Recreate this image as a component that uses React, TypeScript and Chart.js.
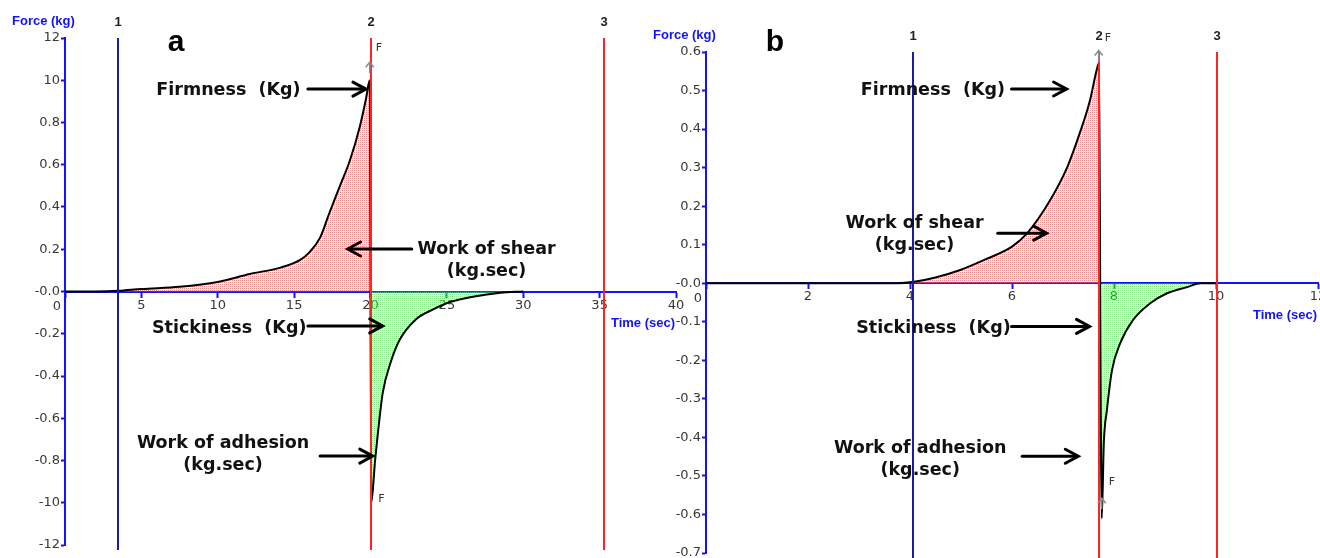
import React, { useEffect, useRef } from 'react';
import { Chart, registerables } from 'chart.js';

Chart.register(...registerables);

// ---------- Panel a data ----------
const aTime = [0, 2.0, 3.5, 5.0, 7.5, 10.0, 12.1, 14.1, 15.4, 16.0, 16.7, 17.3, 18.0, 18.65, 19.3, 19.7, 19.95, 20.05, 20.3, 20.5, 20.8, 21.3, 21.9, 23.0, 24.1, 25.2, 26.7, 28.5, 30.0];
const aForce = [0, 0.0, 0.003, 0.012, 0.022, 0.045, 0.083, 0.113, 0.15, 0.185, 0.255, 0.37, 0.5, 0.62, 0.78, 0.91, 1.0, -1.0, -0.8, -0.66, -0.48, -0.34, -0.23, -0.13, -0.085, -0.05, -0.025, -0.006, 0];
const aXTicks = [0, 5, 10, 15, 20, 25, 30, 35, 40];
const aYTicks = [-1.2, -1.0, -0.8, -0.6, -0.4, -0.2, 0, 0.2, 0.4, 0.6, 0.8, 1.0, 1.2];
const aYTickLabels = ['-12', '-10', '-0.8', '-0.6', '-0.4', '-0.2', '-0.0', '0.2', '0.4', '0.6', '0.8', '10', '12'];
const aMarkers = [3.5, 20.0, 35.3];

// ---------- Panel b data ----------
const bTime = [0, 3.75, 4.05, 4.5, 5.0, 5.5, 6.0, 6.3, 6.75, 7.08, 7.33, 7.53, 7.66, 7.7, 7.76, 7.8, 7.86, 7.96, 8.12, 8.37, 8.71, 9.04, 9.43, 9.7, 10.0];
const bForce = [0, 0, 0.003, 0.015, 0.035, 0.063, 0.095, 0.13, 0.216, 0.3, 0.39, 0.475, 0.553, 0.57, -0.61, -0.415, -0.33, -0.226, -0.156, -0.096, -0.052, -0.026, -0.01, 0, 0];
const bXTicks = [0, 2, 4, 6, 8, 10, 12];
const bYTicks = [-0.7, -0.6, -0.5, -0.4, -0.3, -0.2, -0.1, 0, 0.1, 0.2, 0.3, 0.4, 0.5, 0.6];
const bYTickLabels = ['-0.7', '-0.6', '-0.5', '-0.4', '-0.3', '-0.2', '-0.1', '-0.0', '0.1', '0.2', '0.3', '0.4', '0.5', '0.6'];
const bMarkers = [4.05, 7.7, 10.02];

// ---------- shared text ----------
const markerLabels = ['1', '2', '3'];
const yTitle = 'Force (kg)';
const xTitle = 'Time (sec)';
const firmnessText = 'Firmness  (Kg)';
const shearText = ['Work of shear', '(kg.sec)'];
const stickText = 'Stickiness  (Kg)';
const adhesionText = ['Work of adhesion', '(kg.sec)'];
const peakLabel = 'F';

const BLUE = '#1212ff';
const NAVY = '#1c1c9e';
const RED = '#ff2424';
const TICK_COLOR = '#383838';

type Note = { lines: string[]; t: number; v: number; arrow: number[] };

const aNotes: Note[] = [
  { lines: [firmnessText], t: 10.7, v: 0.954, arrow: [15.9, 19.7, 0.958] },
  { lines: shearText, t: 27.6, v: 0.201, arrow: [22.7, 18.5, 0.201] },
  { lines: [stickText], t: 10.75, v: -0.173, arrow: [15.9, 20.8, -0.163] },
  { lines: adhesionText, t: 10.35, v: -0.717, arrow: [16.7, 20.15, -0.779] },
];
const bNotes: Note[] = [
  { lines: [firmnessText], t: 4.45, v: 0.499, arrow: [5.99, 7.07, 0.504] },
  { lines: shearText, t: 4.09, v: 0.156, arrow: [5.72, 6.68, 0.13] },
  { lines: [stickText], t: 4.46, v: -0.117, arrow: [5.99, 7.52, -0.112] },
  { lines: adhesionText, t: 4.2, v: -0.429, arrow: [6.2, 7.3, -0.449] },
];

function makePattern(ctx: CanvasRenderingContext2D, dot: string, bg: string) {
  const p = document.createElement('canvas');
  p.width = 2;
  p.height = 2;
  const g = p.getContext('2d')!;
  g.fillStyle = bg;
  g.fillRect(0, 0, 2, 2);
  g.fillStyle = dot;
  g.fillRect(0, 0, 1, 1);
  return ctx.createPattern(p, 'repeat');
}

function drawArrow(ctx: CanvasRenderingContext2D, x1: number, x2: number, y: number) {
  const dir = Math.sign(x2 - x1);
  ctx.strokeStyle = '#000';
  ctx.lineWidth = 3;
  ctx.lineCap = 'round';
  ctx.beginPath();
  ctx.moveTo(x1, y);
  ctx.lineTo(x2 - dir * 2, y);
  ctx.stroke();
  ctx.beginPath();
  ctx.moveTo(x2 - dir * 13, y - 7);
  ctx.lineTo(x2, y);
  ctx.lineTo(x2 - dir * 13, y + 7);
  ctx.stroke();
}

function drawUpArrow(ctx: CanvasRenderingContext2D, x: number, tip: number) {
  ctx.strokeStyle = '#8a8a8a';
  ctx.lineWidth = 1.5;
  ctx.beginPath();
  ctx.moveTo(x, tip + 11);
  ctx.lineTo(x, tip);
  ctx.moveTo(x - 4, tip + 5);
  ctx.lineTo(x, tip);
  ctx.lineTo(x + 4, tip + 5);
  ctx.stroke();
}

function overlayPlugin(p: any) {
  return {
    id: 'overlay_' + p.name,
    afterDatasetsDraw(chart: any) {
      const { ctx, chartArea } = chart;
      const x = chart.scales.x;
      const y = chart.scales.y;
      const zeroY = y.getPixelForValue(0);
      ctx.save();

      // marker lines + labels
      p.markers.forEach((t: number, i: number) => {
        const px = Math.round(x.getPixelForValue(t));
        ctx.strokeStyle = i === 0 ? NAVY : RED;
        ctx.lineWidth = 2;
        ctx.beginPath();
        ctx.moveTo(px, chartArea.top);
        ctx.lineTo(px, chartArea.bottom + p.lineExtra);
        ctx.stroke();
        ctx.fillStyle = '#222';
        ctx.font = 'bold 13px "Liberation Sans"';
        ctx.textAlign = 'center';
        ctx.textBaseline = 'middle';
        ctx.fillText(markerLabels[i], px, chartArea.top - 16);
      });

      // peak markers
      let iMax = 0;
      let iMin = 0;
      p.force.forEach((v: number, i: number) => {
        if (v > p.force[iMax]) iMax = i;
        if (v < p.force[iMin]) iMin = i;
      });
      const tx = x.getPixelForValue(p.time[iMax]);
      const ty = y.getPixelForValue(p.force[iMax]);
      drawUpArrow(ctx, tx, ty + p.f.topArrow);
      ctx.fillStyle = '#333';
      ctx.font = '11px "DejaVu Sans"';
      ctx.textAlign = 'left';
      ctx.textBaseline = 'middle';
      ctx.fillText(peakLabel, tx + 6, ty + p.f.top);
      const bx = x.getPixelForValue(p.time[iMin]);
      const by = y.getPixelForValue(p.force[iMin]);
      if (p.f.bottomArrow !== null) drawUpArrow(ctx, bx, by + p.f.bottomArrow);
      ctx.fillText(peakLabel, bx + 7, by + p.f.bottom);

      // axis titles
      ctx.fillStyle = BLUE;
      ctx.font = 'bold 13px "Liberation Sans"';
      ctx.textAlign = 'left';
      ctx.fillText(yTitle, chartArea.left - 53, chartArea.top - 17);
      ctx.textAlign = 'right';
      ctx.fillText(xTitle, chartArea.right - 1, zeroY + 32);

      // origin tick label
      ctx.fillStyle = TICK_COLOR;
      ctx.font = '13px "DejaVu Sans"';
      ctx.textAlign = 'center';
      ctx.fillText('0', chartArea.left - 8, zeroY + 15);

      // panel letter
      ctx.fillStyle = '#000';
      ctx.font = 'bold 30px "Liberation Sans"';
      ctx.textAlign = 'center';
      ctx.textBaseline = 'alphabetic';
      ctx.fillText(p.letter, p.letterPos[0], p.letterPos[1]);

      // annotations
      ctx.font = 'bold 17.5px "DejaVu Sans"';
      ctx.fillStyle = '#111';
      ctx.textAlign = 'center';
      ctx.textBaseline = 'middle';
      p.notes.forEach((n: Note) => {
        const nx = x.getPixelForValue(n.t);
        const ny = y.getPixelForValue(n.v);
        n.lines.forEach((line, k) => ctx.fillText(line, nx, ny + k * 22));
        drawArrow(ctx, x.getPixelForValue(n.arrow[0]), x.getPixelForValue(n.arrow[1]), y.getPixelForValue(n.arrow[2]));
      });
      ctx.restore();
    },
  };
}

function buildConfig(p: any, ctx: CanvasRenderingContext2D) {
  const pts = p.time.map((t: number, i: number) => ({ x: t, y: p.force[i] }));
  const red = pts.filter((q: any) => q.x >= p.markers[0] && q.x <= p.markers[1] && q.y >= 0);
  const green = pts.filter((q: any) => q.x >= p.markers[1] && q.x <= p.markers[2] && q.y <= 0);
  const redPat = makePattern(ctx, 'rgba(255,70,70,0.6)', 'rgba(255,200,200,0.3)');
  const greenPat = makePattern(ctx, 'rgba(60,220,60,0.6)', 'rgba(200,250,200,0.3)');
  const tickFont = { family: 'DejaVu Sans', size: 13 };
  const line = { pointRadius: 0, cubicInterpolationMode: 'monotone' };
  return {
    type: 'line',
    data: {
      datasets: [
        { ...line, data: pts, borderColor: '#000', borderWidth: 2, fill: false, order: 1 },
        { ...line, data: red, borderColor: 'rgba(0,0,0,0)', borderWidth: 0, backgroundColor: redPat, fill: 'origin', order: 2 },
        { ...line, data: green, borderColor: 'rgba(0,0,0,0)', borderWidth: 0, backgroundColor: greenPat, fill: 'origin', order: 3 },
      ],
    },
    options: {
      responsive: false,
      animation: false,
      events: [],
      layout: { padding: p.padding },
      plugins: { legend: { display: false }, tooltip: { enabled: false } },
      scales: {
        x: {
          type: 'linear',
          min: p.xTicks[0],
          max: p.xTicks[p.xTicks.length - 1],
          position: { y: 0 },
          afterBuildTicks: (s: any) => {
            s.ticks = p.xTicks.map((v: number) => ({ value: v }));
          },
          ticks: {
            callback: (v: number) => (v === 0 ? '' : String(v)),
            color: TICK_COLOR,
            font: tickFont,
            autoSkip: false,
            maxRotation: 0,
            padding: 1,
          },
          grid: { display: true, drawOnChartArea: false, drawTicks: true, tickLength: 5, tickColor: BLUE, tickWidth: 2 },
          border: { color: BLUE, width: 2 },
        },
        y: {
          type: 'linear',
          min: p.yTicks[0],
          max: p.yTicks[p.yTicks.length - 1],
          afterBuildTicks: (s: any) => {
            s.ticks = p.yTicks.map((v: number) => ({ value: v }));
          },
          afterFit: (s: any) => {
            s.width = p.yWidth;
          },
          ticks: {
            callback: (v: number) => {
              const i = p.yTicks.findIndex((t: number) => Math.abs(t - v) < 1e-6);
              return i >= 0 ? p.yLabels[i] : '';
            },
            color: TICK_COLOR,
            font: tickFont,
            autoSkip: false,
            padding: 1,
          },
          grid: { display: true, drawOnChartArea: false, drawTicks: true, tickLength: 4, tickColor: BLUE, tickWidth: 2 },
          border: { color: BLUE, width: 2 },
        },
      },
    },
    plugins: [overlayPlugin(p)],
  };
}

const panelA = {
  name: 'a',
  time: aTime,
  force: aForce,
  xTicks: aXTicks,
  yTicks: aYTicks,
  yLabels: aYTickLabels,
  markers: aMarkers,
  notes: aNotes,
  padding: { left: 0, right: 24, top: 38, bottom: 13 },
  yWidth: 65,
  lineExtra: 5,
  letter: 'a',
  letterPos: [176, 51],
  f: { top: -32, topArrow: -18, bottom: -4, bottomArrow: null },
};

const panelB = {
  name: 'b',
  time: bTime,
  force: bForce,
  xTicks: bXTicks,
  yTicks: bYTicks,
  yLabels: bYTickLabels,
  markers: bMarkers,
  notes: bNotes,
  padding: { left: 0, right: 22, top: 52, bottom: 27 },
  yWidth: 66,
  lineExtra: 30,
  letter: 'b',
  letterPos: [135, 51],
  f: { top: -25, topArrow: -13, bottom: -36, bottomArrow: -20 },
};

function Panel({ p, left, width, height }: { p: any; left: number; width: number; height: number }) {
  const ref = useRef<HTMLCanvasElement>(null);
  useEffect(() => {
    const canvas = ref.current!;
    const ctx = canvas.getContext('2d')!;
    const chart = new Chart(canvas, buildConfig(p, ctx) as any);
    return () => chart.destroy();
  }, [p]);
  return (
    <canvas
      ref={ref}
      width={width}
      height={height}
      style={{ position: 'absolute', left, top: 0, width, height }}
    />
  );
}

export default function App() {
  return (
    <div
      style={{
        position: 'absolute',
        left: 0,
        top: 0,
        width: 1320,
        height: 558,
        overflow: 'hidden',
        background: '#fff',
      }}
    >
      <Panel p={panelA} left={0} width={700} height={558} />
      <Panel p={panelB} left={640} width={700} height={580} />
    </div>
  );
}
